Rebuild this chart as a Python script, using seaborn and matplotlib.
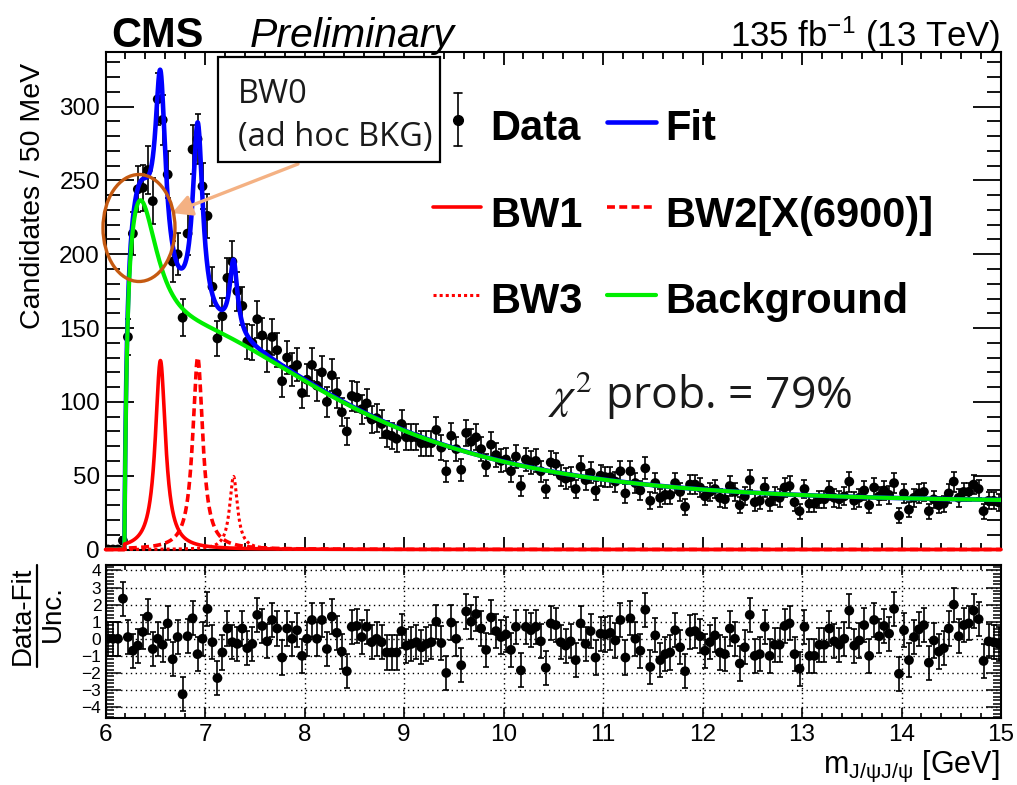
import numpy as np
import pandas as pd
import matplotlib
matplotlib.use("Agg")
import matplotlib.pyplot as plt
import seaborn as sns
from matplotlib.patches import Ellipse, Rectangle, FancyArrowPatch
from matplotlib.lines import Line2D
from matplotlib.ticker import MultipleLocator, FixedLocator

# ---------------------------------------------------------------- data
m_min, m_max, bin_width = 6.0, 15.0, 0.05

counts = [
    0, 0, 0, 6, 144, 214, 244, 245, 257, 236,
    305, 291, 254, 195, 200, 157, 214, 271, 278, 246,
    226, 178, 143, 158, 184, 195, 175, 165, 141, 140,
    156, 145, 132, 144, 135, 114, 130, 122, 125, 106,
    115, 125, 111, 120, 100, 118, 106, 93, 80, 104,
    103, 95, 99, 88, 89, 85, 78, 77, 75, 85,
    76, 76, 76, 72, 72, 72, 81, 69, 53, 77,
    68, 54, 79, 73, 76, 68, 57, 71, 64, 60,
    61, 53, 63, 43, 61, 59, 60, 53, 41, 59,
    58, 50, 48, 49, 41, 56, 47, 52, 40, 50,
    49, 49, 46, 53, 38, 53, 45, 40, 55, 33,
    45, 35, 37, 37, 45, 39, 29, 44, 44, 42,
    36, 39, 41, 35, 34, 43, 39, 30, 36, 47,
    32, 33, 42, 32, 36, 35, 42, 43, 32, 26,
    41, 31, 31, 34, 34, 40, 35, 34, 36, 46,
    33, 35, 40, 30, 42, 36, 40, 37, 45, 23,
    38, 27, 35, 38, 39, 26, 34, 30, 31, 38,
    46, 35, 39, 39, 44, 41, 26, 33, 33, 32,
]

pulls = [
    0.0, 0.0, 0.0, 2.35, 0.1, -0.7, -0.4, 0.4, 1.3, -0.6,
    0.0, -0.35, 0.9, -1.2, 0.1, -3.25, 0.15, 1.2, -0.9, 0.0,
    1.75, -0.2, -2.3, -0.8, 0.6, -0.2, -0.3, 0.6, -0.55, -0.3,
    1.4, 0.75, -0.15, 1.1, 0.6, -1.1, 0.6, 0.0, 0.5, -1.0,
    0.0, 1.1, 0.0, 1.1, -0.6, 1.3, 0.35, -0.75, -1.9, 0.7,
    0.75, 0.1, 0.7, -0.2, 0.0, -0.2, -0.8, -0.8, -0.8, 0.45,
    -0.4, -0.3, -0.2, -0.5, -0.3, -0.2, 1.0, -0.25, -2.0, 0.95,
    0.0, -1.55, 1.6, 1.0, 1.45, 0.6, -0.65, 1.25, 0.45, 0.1,
    0.25, -0.65, 0.7, -1.85, 0.7, 0.5, 0.7, -0.15, -1.7, 0.9,
    0.8, -0.2, -0.4, -0.15, -1.25, 0.9, -0.3, 0.45, -1.1, 0.3,
    0.25, 0.35, -0.1, 1.1, -1.1, 1.2, 0.0, -0.7, 1.7, -1.65,
    0.2, -1.25, -0.9, -0.8, 0.5, -0.5, -1.9, 0.4, 0.45, 0.15,
    -0.7, -0.2, 0.2, -0.8, -0.9, 0.6, 0.0, -1.45, -0.5, 1.4,
    -1.0, -0.9, 0.7, -1.0, -0.35, -0.35, 0.75, 0.9, -0.9, -1.75,
    0.7, -1.0, -1.0, -0.35, -0.35, 0.6, -0.15, -0.35, 0.0, 1.65,
    -0.4, -0.1, 0.8, -1.0, 1.1, 0.15, 0.75, 0.3, 1.75, -2.05,
    0.5, -1.25, 0.1, 0.55, 0.8, -1.4, -0.1, -0.75, -0.55, 0.6,
    2.0, 0.15, 0.8, 0.9, 1.65, 1.15, -1.3, -0.15, -0.2, -0.3,
]

# fit model: threshold background (smooth part + ad hoc BW0) and three resonances
threshold = 6.19
bkg_const, bkg_amp, bkg_slope, bkg_turnon = 32.0, 252.0, 1.7, 0.7
bw0_height, bw0_mass, bw0_width, bw0_turnon = 190.0, 6.30, 0.52, 0.02
bw1_height, bw1_mass, bw1_width = 128.0, 6.552, 0.124
bw2_height, bw2_mass, bw2_width = 130.0, 6.927, 0.122
bw3_height, bw3_mass, bw3_width = 49.5, 7.287, 0.095

x_ticks = [6, 7, 8, 9, 10, 11, 12, 13, 14, 15]
y_ticks = [0, 50, 100, 150, 200, 250, 300]
pull_ticks = [-4, -3, -2, -1, 0, 1, 2, 3, 4]


def breit_wigner(m, height, mass, width):
    return height / (1.0 + ((m - mass) / (0.5 * width)) ** 2)


def above_threshold(m):
    return (m > threshold).astype(float)


def background(m):
    dm = np.clip(m - threshold, 0.0, None)
    smooth = (bkg_const + bkg_amp * np.exp(-dm / bkg_slope)) * (1.0 - np.exp(-dm / bkg_turnon))
    bw0 = breit_wigner(m, bw0_height, bw0_mass, bw0_width) * (1.0 - np.exp(-dm / bw0_turnon))
    return (smooth + bw0) * above_threshold(m)


centers = m_min + bin_width * (np.arange(len(counts)) + 0.5)
hist = pd.DataFrame({
    "mass": centers,
    "count": np.array(counts, dtype=float),
    "pull": np.array(pulls, dtype=float),
})
hist["err"] = np.sqrt(hist["count"])

mm = np.linspace(m_min, m_max, 6001)
curves = pd.DataFrame({"mass": mm})
curves["bkg"] = background(mm)
curves["bw1"] = breit_wigner(mm, bw1_height, bw1_mass, bw1_width) * above_threshold(mm)
curves["bw2"] = breit_wigner(mm, bw2_height, bw2_mass, bw2_width) * above_threshold(mm)
curves["bw3"] = breit_wigner(mm, bw3_height, bw3_mass, bw3_width) * above_threshold(mm)
curves["fit"] = curves["bkg"] + curves["bw1"] + curves["bw2"] + curves["bw3"]

# ---------------------------------------------------------------- style
sns.set_theme(style="ticks")
plt.rcParams.update({
    "font.family": ["Liberation Sans", "DejaVu Sans"],
    "mathtext.fontset": "custom",
    "mathtext.rm": "Liberation Sans",
    "mathtext.it": "Liberation Sans:italic",
    "mathtext.bf": "Liberation Sans:bold",
    "axes.edgecolor": "black",
    "axes.linewidth": 1.5,
    "text.color": "black",
    "axes.labelcolor": "black",
    "xtick.color": "black",
    "ytick.color": "black",
    "xtick.direction": "in",
    "ytick.direction": "in",
    "axes.unicode_minus": True,
})

W, H = 1017, 785
fig = plt.figure(figsize=(W / 100, H / 100), dpi=100)
fig.patch.set_facecolor("white")


def fpos(x, y):
    """pixel position (from top-left) to figure fraction"""
    return x / W, 1.0 - y / H


left, right = 105.5, 1001.0
ax = fig.add_axes([left / W, 1 - 549.5 / H, (right - left) / W, (549.5 - 52) / H])
axp = fig.add_axes([left / W, 1 - 718 / H, (right - left) / W, (718 - 565) / H])

marker_area = 50

# ---------------------------------------------------------------- main panel
ax.errorbar(hist["mass"], hist["count"], yerr=hist["err"], fmt="none",
            ecolor="black", elinewidth=1.2, capsize=2.4, capthick=1.2, zorder=2)
sns.scatterplot(data=hist, x="mass", y="count", ax=ax, color="black", s=marker_area,
                edgecolor="none", linewidth=0, zorder=3, legend=False)

sns.lineplot(data=curves, x="mass", y="fit", ax=ax, color="#0000ff", linewidth=3.3, zorder=4)
sns.lineplot(data=curves, x="mass", y="bkg", ax=ax, color="#00ee00", linewidth=3.0, zorder=5)
sns.lineplot(data=curves, x="mass", y="bw3", ax=ax, color="#ff0000", linewidth=2.2,
             linestyle=(0, (1, 1)), zorder=6, clip_on=False)
sns.lineplot(data=curves, x="mass", y="bw2", ax=ax, color="#ff0000", linewidth=2.6,
             linestyle=(0, (2.2, 1.2)), zorder=6, clip_on=False)
sns.lineplot(data=curves, x="mass", y="bw1", ax=ax, color="#ff0000", linewidth=2.6,
             zorder=7, clip_on=False)

ax.set_xlim(m_min, m_max)
ax.set_ylim(0, 337)
ax.set_xlabel("")
ax.set_ylabel("")
ax.xaxis.set_major_locator(FixedLocator(x_ticks))
ax.xaxis.set_minor_locator(MultipleLocator(0.2))
ax.yaxis.set_major_locator(FixedLocator(y_ticks))
ax.yaxis.set_minor_locator(MultipleLocator(10))
ax.tick_params(axis="x", which="both", top=True, bottom=True, labelbottom=False, width=1.3)
ax.tick_params(axis="x", which="major", length=9.4)
ax.tick_params(axis="x", which="minor", length=4.7)
ax.tick_params(axis="y", which="both", left=True, right=True, width=1.3, labelsize=17.5, pad=4)
ax.tick_params(axis="y", which="major", length=20)
ax.tick_params(axis="y", which="minor", length=10)
for s in ax.spines.values():
    s.set_visible(True)
    s.set_linewidth(1.5)

# ---------------------------------------------------------------- pull panel
axp.set_axisbelow(True)
axp.grid(True, which="major", linestyle=(0, (1, 2.5)), color="black", linewidth=1.0)
axp.errorbar(hist["mass"], hist["pull"], yerr=1.0, fmt="none",
             ecolor="black", elinewidth=1.2, capsize=2.4, capthick=1.2, zorder=2)
sns.scatterplot(data=hist, x="mass", y="pull", ax=axp, color="black", s=marker_area,
                edgecolor="none", linewidth=0, zorder=3, legend=False)
axp.set_xlim(m_min, m_max)
axp.set_ylim(-4.64, 4.32)
axp.set_xlabel("")
axp.set_ylabel("")
axp.xaxis.set_major_locator(FixedLocator(x_ticks))
axp.xaxis.set_minor_locator(MultipleLocator(0.2))
axp.yaxis.set_major_locator(FixedLocator(pull_ticks))
axp.yaxis.set_minor_locator(MultipleLocator(0.2))
axp.tick_params(axis="x", which="both", top=True, bottom=True, width=1.2, labelsize=17.5, pad=4)
axp.tick_params(axis="x", which="major", length=7)
axp.tick_params(axis="x", which="minor", length=3.6)
axp.tick_params(axis="y", which="both", left=True, right=True, width=1.1, labelsize=12.5, pad=3)
axp.tick_params(axis="y", which="major", length=11)
axp.tick_params(axis="y", which="minor", length=6)
for s in axp.spines.values():
    s.set_visible(True)
    s.set_linewidth(1.5)

# ---------------------------------------------------------------- titles and axis titles
fig.text(*fpos(111, 47), "CMS", fontsize=30, fontweight="bold", va="baseline", ha="left")
fig.text(*fpos(250, 47), "Preliminary", fontsize=29.5, style="italic", va="baseline", ha="left")
fig.text(*fpos(1000, 47), r"135 fb$^{-1}$ (13 TeV)", fontsize=25, va="baseline", ha="right")
fig.text(*fpos(33, 196), "Candidates / 50 MeV", fontsize=20.5, rotation=90,
         ha="center", va="center")
fig.text(*fpos(1000, 773), r"m$_{\mathrm{J/ψJ/ψ}}$ [GeV]", fontsize=22, ha="right", va="baseline")

fig.text(*fpos(23, 616), "Data-Fit", fontsize=20, rotation=90, ha="center", va="center")
fig.text(*fpos(53, 614), "Unc.", fontsize=20, rotation=90, ha="center", va="center")
fig.add_artist(Line2D([37 / W, 37 / W], [1 - 565 / H, 1 - 667 / H], color="black",
                      linewidth=1.6, transform=fig.transFigure))

# ---------------------------------------------------------------- legend
leg_font = dict(fontsize=30, fontweight="bold", va="baseline", ha="left")
fig.text(*fpos(490, 140), "Data", **leg_font)
fig.text(*fpos(665, 140), "Fit", **leg_font)
fig.text(*fpos(490, 227), "BW1", **leg_font)
fig.text(*fpos(665, 227), "BW2[X(6900)]", **leg_font)
fig.text(*fpos(490, 313), "BW3", **leg_font)
fig.text(*fpos(665, 313), "Background", **leg_font)

# data handle: marker with error bar
fig.add_artist(Line2D([458 / W] * 2, [1 - 93 / H, 1 - 146 / H], color="black",
                      linewidth=1.2, transform=fig.transFigure))
for yy in (93, 146):
    fig.add_artist(Line2D([454 / W, 462 / W], [1 - yy / H] * 2, color="black",
                          linewidth=1.2, transform=fig.transFigure))
fig.add_artist(Line2D([458 / W], [1 - 120 / H], marker="o", markersize=7, color="black",
                      linestyle="none", transform=fig.transFigure))


def legend_line(x0, x1, y, **kw):
    fig.add_artist(Line2D([x0 / W, x1 / W], [1 - y / H] * 2, transform=fig.transFigure, **kw))


legend_line(607, 656, 122, color="#0000ff", linewidth=3.3)
legend_line(433, 481, 207, color="#ff0000", linewidth=2.6)
legend_line(607, 656, 207, color="#ff0000", linewidth=2.6, linestyle=(0, (2.2, 1.2)))
legend_line(433, 481, 295, color="#ff0000", linewidth=2.2, linestyle=(0, (1, 1)))
legend_line(607, 656, 295, color="#00ee00", linewidth=3.0)

# ---------------------------------------------------------------- annotations
fig.text(*fpos(548, 408), r"$\chi^2$ prob. = 79%", fontsize=32, family="Open Sans",
         math_fontfamily="stix", va="baseline", ha="left", color="#1a1a1a")

box = Rectangle(fpos(218, 162), 222 / W, 105 / H, transform=fig.transFigure,
                facecolor="white", edgecolor="black", linewidth=1.6, zorder=10)
fig.add_artist(box)
fig.text(*fpos(238, 103), "BW0", fontsize=23.5, family="Open Sans", va="baseline",
         ha="left", color="#1a1a1a", zorder=11)
fig.text(*fpos(238, 146), "(ad hoc BKG)", fontsize=23.5, family="Open Sans", va="baseline",
         ha="left", color="#1a1a1a", zorder=11)

arrow = FancyArrowPatch(fpos(298, 164), fpos(172, 213), transform=fig.transFigure,
                        arrowstyle="-|>,head_length=0.6,head_width=0.32", mutation_scale=20,
                        color="#f4b183", linewidth=2.4, shrinkA=0, shrinkB=0, zorder=9)
fig.add_artist(arrow)

ring = Ellipse(fpos(139, 228), 72 / W, 107 / H, transform=fig.transFigure,
               fill=False, edgecolor="#c55a11", linewidth=2.4, zorder=9)
fig.add_artist(ring)

fig.savefig("out.png", dpi=100, facecolor="white")
